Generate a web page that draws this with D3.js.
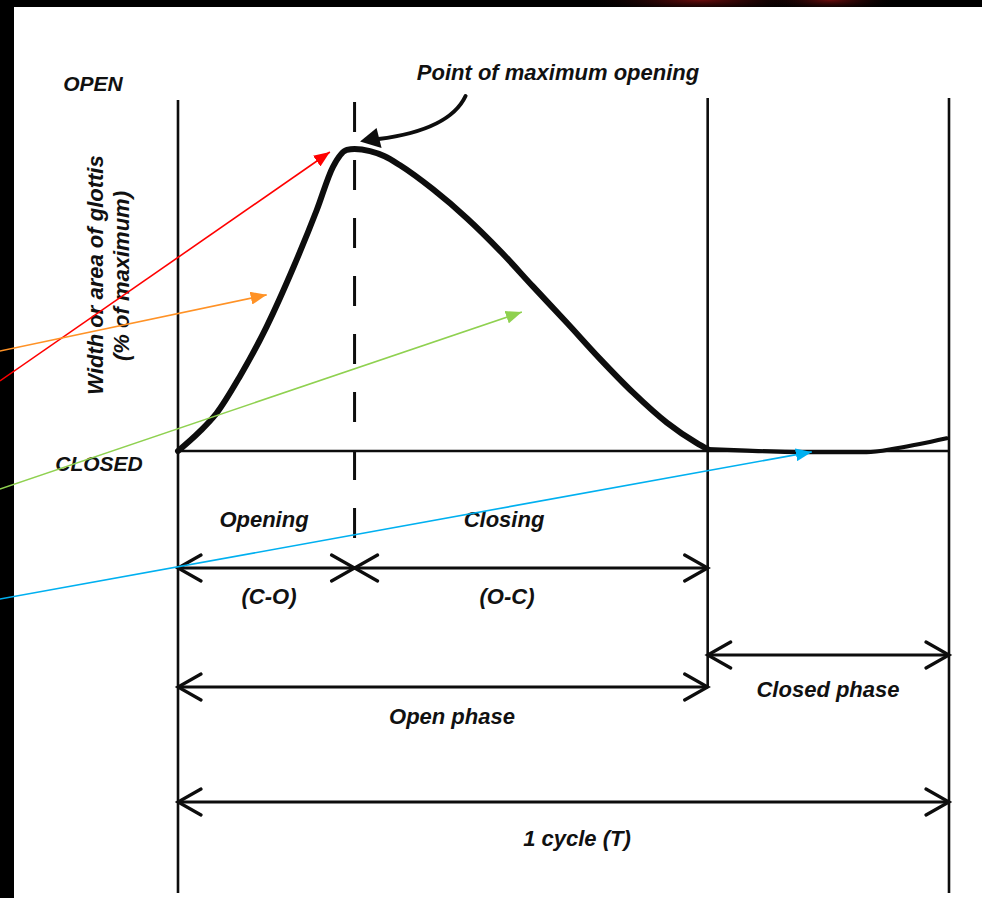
<!DOCTYPE html>
<html>
<head>
<meta charset="utf-8">
<script src="https://cdn.jsdelivr.net/npm/d3@7/dist/d3.min.js"></script>
<style>
  html, body { margin: 0; padding: 0; background: #000; }
  svg { display: block; }
  text { font-family: "Liberation Sans", Arial, Helvetica, sans-serif; font-weight: bold; font-style: italic; fill: #111; }
</style>
</head>
<body>
<script>
// Glottal cycle: time in % of one period, opening in % of maximum width
const openTime  = [0, 2.8, 5.0, 8.0, 11.5, 15.0, 18.0, 20.1, 21.9, 22.9, 24.9, 26.8, 28.8, 33.1, 37.5, 41.8, 46.0, 50.5, 54.7, 59.0, 63.4, 67.3, 68.7];
const openWidth = [0, 6.4, 12.5, 24.6, 41.2, 61.0, 79.8, 94.1, 99.7, 100, 99.3, 97.6, 94.6, 86.6, 77.0, 66.2, 54.6, 42.3, 30.6, 19.4, 9.4, 2.6, 0.6];
const closedTime  = [68.7, 73.8, 82.4, 89.3, 93.2, 96.2, 99.7];
const closedWidth = [0.6, 0.1, -0.4, -0.4, 0.9, 2.3, 4.2];

// Phase boundaries (% of period)
const eventNames = ["closure ends", "maximum opening", "closure", "next cycle"];
const eventTimes = [0, 22.9, 68.7, 100];

// Interval labels and their bounds
const spanLabels = ["(C-O)", "(O-C)", "Open phase", "Closed phase", "1 cycle (T)"];
const spanFrom   = [0, 22.9, 0, 68.7, 0];
const spanTo     = [22.9, 68.7, 68.7, 100, 100];

// Level labels
const levelLabels = ["OPEN", "CLOSED"];
const axisTitle = ["Width or area of glottis", "(% of maximum)"];
const phaseNames = ["Opening", "Closing"];
const peakNote = "Point of maximum opening";

// Highlight pointers: start (off the plot) and target, in data units
const pointerColors = ["#ff0000", "#ff9226", "#8fd150", "#00b0f0"];
const pointerFromT = [-23.1, -23.1, -23.1, -23.1];
const pointerFromV = [23.2, 33.1, -12.6, -49.0];
const pointerToT   = [19.7, 11.5, 44.6, 82.2];
const pointerToV   = [99.0, 51.7, 46.0, -0.3];

const W = 982, H = 898;
const svg = d3.select("body").append("svg").attr("width", W).attr("height", H);

const defs = svg.append("defs");
const glow = defs.append("radialGradient").attr("id", "glow");
glow.append("stop").attr("offset", "0%").attr("stop-color", "#6a0c0c");
glow.append("stop").attr("offset", "100%").attr("stop-color", "#000").attr("stop-opacity", 0);

// dark frame with a faint red glow along the top edge
svg.append("rect").attr("width", W).attr("height", H).attr("fill", "#000");
svg.append("ellipse").attr("cx", 700).attr("cy", 0).attr("rx", 120).attr("ry", 14).attr("fill", "url(#glow)");
svg.append("ellipse").attr("cx", 830).attr("cy", 0).attr("rx", 70).attr("ry", 12).attr("fill", "url(#glow)");
svg.append("rect").attr("x", 14).attr("y", 7).attr("width", W - 14).attr("height", H - 7).attr("fill", "#fff");

const x = d3.scaleLinear().domain([0, 100]).range([178, 949]);
const y = d3.scaleLinear().domain([0, 100]).range([451, 149]);

const ink = "#0d0d0d";
const g = svg.append("g");

// vertical event lines
const vTop = [100, null, 98, 98];
const vBottom = [893, null, 687, 893];
eventTimes.forEach((t, i) => {
  if (i === 1) return;
  g.append("line")
    .attr("x1", x(t)).attr("x2", x(t))
    .attr("y1", vTop[i]).attr("y2", vBottom[i])
    .attr("stroke", ink).attr("stroke-width", 2.6);
});

// dashed line at maximum opening
g.append("line")
  .attr("x1", x(eventTimes[1])).attr("x2", x(eventTimes[1]))
  .attr("y1", 102).attr("y2", 538)
  .attr("stroke", ink).attr("stroke-width", 3)
  .attr("stroke-dasharray", "30 28");

// closed level baseline
g.append("line")
  .attr("x1", x(0) - 2).attr("x2", x(100))
  .attr("y1", y(0)).attr("y2", y(0))
  .attr("stroke", ink).attr("stroke-width", 2.4);

// glottal waveform
const line = d3.line().curve(d3.curveMonotoneX).x(d => x(d[0])).y(d => y(d[1]));
g.append("path")
  .attr("d", line(d3.zip(openTime, openWidth)))
  .attr("fill", "none").attr("stroke", ink).attr("stroke-width", 6)
  .attr("stroke-linejoin", "round").attr("stroke-linecap", "round");
g.append("path")
  .attr("d", line(d3.zip(closedTime, closedWidth)))
  .attr("fill", "none").attr("stroke", ink).attr("stroke-width", 4.2)
  .attr("stroke-linecap", "round");

// dimension arrows
const rowY = [568, 568, 687, 655, 802];
const labelX = [269, 507, 452, 828, 577];
const labelY = [604, 604, 724, 697, 846];
function chevron(px, py, dir) {
  return `M${px + dir * 23},${py - 13} L${px},${py} L${px + dir * 23},${py + 13}`;
}
spanLabels.forEach((lab, i) => {
  const a = x(spanFrom[i]), b = x(spanTo[i]), yy = rowY[i];
  g.append("line").attr("x1", a).attr("x2", b).attr("y1", yy).attr("y2", yy)
    .attr("stroke", ink).attr("stroke-width", 2.8);
  g.append("path").attr("d", chevron(a, yy, 1) + " " + chevron(b, yy, -1))
    .attr("fill", "none").attr("stroke", ink).attr("stroke-width", 3.2)
    .attr("stroke-linecap", "round").attr("stroke-linejoin", "miter");
  g.append("text").attr("x", labelX[i]).attr("y", labelY[i])
    .attr("text-anchor", "middle").attr("font-size", 22).text(lab);
});

// level labels
g.append("text").attr("x", 93).attr("y", 91).attr("text-anchor", "middle").attr("font-size", 21).text(levelLabels[0]);
g.append("text").attr("x", 99).attr("y", 471).attr("text-anchor", "middle").attr("font-size", 21).text(levelLabels[1]);

// rotated axis title
g.append("text").attr("transform", "translate(103,275) rotate(-90)")
  .attr("text-anchor", "middle").attr("font-size", 22).text(axisTitle[0]);
g.append("text").attr("transform", "translate(129,276) rotate(-90)")
  .attr("text-anchor", "middle").attr("font-size", 22).text(axisTitle[1]);

// phase names
g.append("text").attr("x", 264).attr("y", 527).attr("text-anchor", "middle").attr("font-size", 22).text(phaseNames[0]);
g.append("text").attr("x", 504).attr("y", 527).attr("text-anchor", "middle").attr("font-size", 22).text(phaseNames[1]);

// peak annotation with curved arrow
const px = x(eventTimes[1]), py = y(100);
g.append("text").attr("x", 558).attr("y", 80).attr("text-anchor", "middle").attr("font-size", 22).text(peakNote);
g.append("path")
  .attr("d", `M${px + 111},${py - 53} Q${px + 95},${py - 19} ${px + 24},${py - 10}`)
  .attr("fill", "none").attr("stroke", ink).attr("stroke-width", 4).attr("stroke-linecap", "round");
g.append("path")
  .attr("d", `M${px + 5.5},${py - 7.5} L${px + 22},${py - 21} L${px + 27},${py - 1} Z`)
  .attr("fill", ink);

// coloured pointers
pointerColors.forEach((c, i) => {
  defs.append("marker").attr("id", "tip" + i)
    .attr("markerUnits", "userSpaceOnUse")
    .attr("markerWidth", 17).attr("markerHeight", 13)
    .attr("refX", 16).attr("refY", 6.5).attr("orient", "auto")
    .append("path").attr("d", "M0,0 L16,6.5 L0,13 Z").attr("fill", c);
});
pointerColors.forEach((c, i) => {
  svg.append("line")
    .attr("x1", x(pointerFromT[i])).attr("y1", y(pointerFromV[i]))
    .attr("x2", x(pointerToT[i])).attr("y2", y(pointerToV[i]))
    .attr("stroke", c).attr("stroke-width", 1.6)
    .attr("marker-end", `url(#tip${i})`);
});
</script>
</body>
</html>
